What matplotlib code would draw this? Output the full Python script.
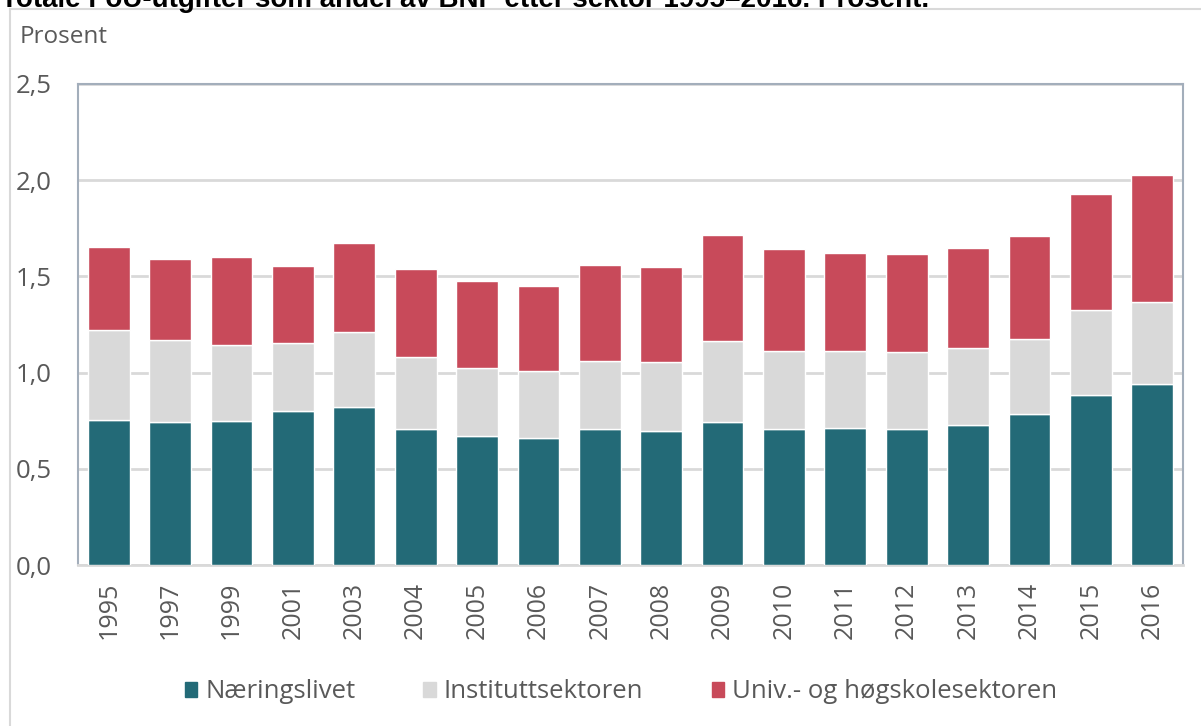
import matplotlib.pyplot as plt
from matplotlib.lines import Line2D
from matplotlib.patches import Rectangle

years = ['1995', '1997', '1999', '2001', '2003', '2004', '2005', '2006', '2007',
         '2008', '2009', '2010', '2011', '2012', '2013', '2014', '2015', '2016']
naeringslivet = [0.755, 0.744, 0.747, 0.800, 0.819, 0.706, 0.673, 0.659, 0.706,
                 0.696, 0.742, 0.708, 0.711, 0.706, 0.727, 0.784, 0.885, 0.940]
institutt = [0.466, 0.426, 0.395, 0.356, 0.394, 0.374, 0.350, 0.348, 0.356,
             0.357, 0.424, 0.406, 0.403, 0.401, 0.399, 0.392, 0.440, 0.425]
univ = [0.430, 0.420, 0.458, 0.400, 0.461, 0.460, 0.455, 0.443, 0.497,
        0.498, 0.551, 0.530, 0.508, 0.508, 0.520, 0.533, 0.602, 0.663]
series_names = ['Næringslivet', 'Instituttsektoren', 'Univ.- og høgskolesektoren']
colors = ['#236A77', '#D9D9D9', '#C84A5A']

plt.rcParams['font.family'] = ['Open Sans', 'DejaVu Sans']

fig = plt.figure(figsize=(12.01, 7.26), dpi=100)
ax = fig.add_axes([78 / 1201, 1 - 565 / 726, (1183 - 78) / 1201, (565 - 84) / 726])

x = list(range(len(years)))
bottom2 = [a + b for a, b in zip(naeringslivet, institutt)]
ax.bar(x, naeringslivet, width=0.68, color=colors[0], edgecolor='white', linewidth=1, zorder=3)
ax.bar(x, institutt, width=0.68, bottom=naeringslivet, color=colors[1], edgecolor='white', linewidth=1, zorder=3)
ax.bar(x, univ, width=0.68, bottom=bottom2, color=colors[2], edgecolor='white', linewidth=1, zorder=3)

ax.set_xlim(-0.5, len(years) - 0.5)
ax.set_ylim(0, 2.5)
ax.set_yticks([0, 0.5, 1.0, 1.5, 2.0, 2.5])
ax.set_yticklabels(['0,0', '0,5', '1,0', '1,5', '2,0', '2,5'])
ax.set_xticks(x)
ax.set_xticklabels(years, rotation=90)
ax.tick_params(axis='x', length=0, labelsize=18, colors='#595959', pad=12)
ax.tick_params(axis='y', length=0, labelsize=18.5, colors='#595959', pad=19)

ax.yaxis.grid(True, color='#D9D9D9', linewidth=2, zorder=0)
ax.set_axisbelow(True)
for s in ['top', 'left', 'right']:
    ax.spines[s].set_color('#A3AEBB')
    ax.spines[s].set_linewidth(1.5)
ax.spines['bottom'].set_color('#D9D9D9')
ax.spines['bottom'].set_linewidth(2)

# outer frame
fig.add_artist(Line2D([10 / 1201, 10 / 1201], [0, 1 - 9 / 726], transform=fig.transFigure,
                      color='#D9D9D9', linewidth=1.5))
fig.add_artist(Line2D([10 / 1201, 1], [1 - 9 / 726, 1 - 9 / 726], transform=fig.transFigure,
                      color='#D9D9D9', linewidth=1.5))

fig.text(0.001, 1 - 7 / 726, 'Totale FoU-utgifter som andel av BNP etter sektor 1995–2016. Prosent.',
         fontsize=20, fontweight='bold', family='Liberation Sans', va='baseline', ha='left')
fig.text(20 / 1201, 1 - 37 / 726, 'Prosent', fontsize=17.5, color='#595959', va='center', ha='left')

handles = [Rectangle((0, 0), 1, 1, color=c) for c in colors]
fig.legend(handles, series_names, loc='center', bbox_to_anchor=(0.517, 1 - 692 / 726),
           ncol=3, frameon=False, fontsize=18.5, handlelength=0.5, handleheight=0.5,
           handletextpad=0.3, columnspacing=2.65, labelcolor='#595959')

fig.savefig('out.png', dpi=100)
